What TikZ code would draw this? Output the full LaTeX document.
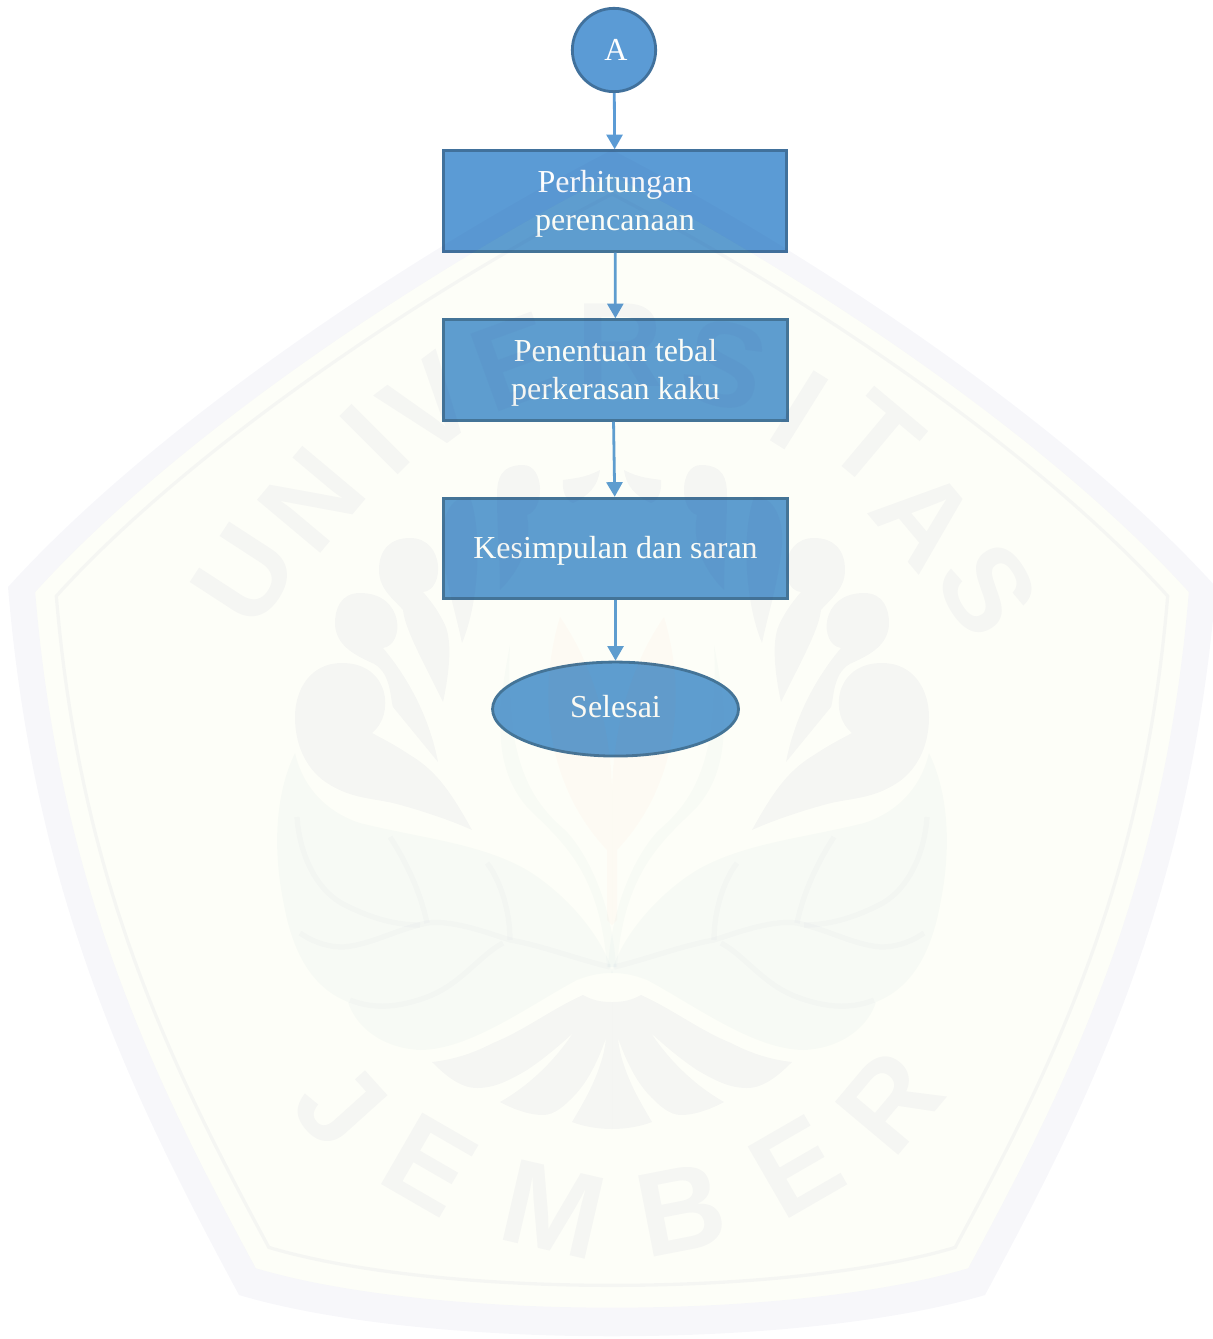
\documentclass[tikz,border=0pt]{standalone}
\usepackage{fontspec}
\setmainfont{Liberation Serif}
\newfontfamily\wmfont{Liberation Sans}[BoldFont={Liberation Sans Bold}]
\usetikzlibrary{arrows.meta}
\usetikzlibrary{shapes.geometric}
\definecolor{flowblue}{HTML}{5B9BD5}
\definecolor{flowedge}{HTML}{41719C}
\definecolor{wmtint}{HTML}{404090}
\definecolor{wmyellow}{HTML}{BCDE16}
\definecolor{wmleaf}{HTML}{6098B0}
\definecolor{wmpink}{HTML}{F06030}

\newcommand{\boxstrut}{\rule{0pt}{20.2pt}}

\tikzset{
	flowpicture/.style = {
		x = 0.75pt,
		y = -0.75pt,
		arrow/.style = {
			draw = flowblue,
			line width = 2.1pt,
			-{Triangle[width = 12pt, length = 11pt]},
		}
	},
	flownode/.style = {
		draw = flowedge,
		fill = flowblue,
		line width = 2.1pt,
		text = white,
		align = center,
		inner sep = 0pt,
		font = \fontsize{24}{28.5}\selectfont
	},
	flowbox/.style = {
		flownode,
		rectangle,
		minimum width = 257.5pt,
		minimum height = 75.5pt
	},
	flowstart/.style = {
		flownode,
		circle,
		minimum size = 62.5pt
	},
	flowend/.style = {
		flownode,
		ellipse,
		minimum width = 184.5pt,
		minimum height = 70.5pt
	},
	wmshade/.style = {
		fill = wmtint,
		fill opacity = 0.045
	},
	wmvein/.style = {
		draw = wmtint,
		draw opacity = 0.025,
		line width = 4pt
	},
	wmletter/.style = {
		text = wmtint,
		text opacity = 0.045,
		inner sep = 0pt,
		font = \wmfont\bfseries\fontsize{90}{90}\selectfont
	}
}

% one half of the leaf emblem, the other half is the mirror image
\newcommand{\wmhalf}{
	\fill[wmshade] (472,830) .. controls (450,790) and (435,770) .. (410,755) .. controls (395,745) and (385,740) .. (372,733) .. controls (395,715) and (390,663) .. (342,663) .. controls (310,663) and (295,690) .. (295,717) .. controls (295,750) and (310,772) .. (327,783) .. controls (350,798) and (370,798) .. (393,803) .. controls (420,810) and (450,820) .. (472,830) -- cycle;
	\fill[wmshade] (438,762) .. controls (430,720) and (410,680) .. (383,648) .. controls (405,645) and (405,593) .. (360,593) .. controls (340,593) and (335,610) .. (335,623) .. controls (335,645) and (355,655) .. (370,662) .. controls (392,670) and (390,700) .. (393,707) -- cycle;
	\fill[wmshade] (443,702) .. controls (450,670) and (452,640) .. (445,625) .. controls (438,610) and (430,600) .. (423,592) .. controls (445,590) and (445,538) .. (410,538) .. controls (390,538) and (379,550) .. (379,570) .. controls (379,590) and (395,600) .. (403,610) .. controls (405,630) and (425,665) .. (443,702) -- cycle;
	\fill[wmshade] (462,643) .. controls (480,600) and (482,530) .. (470,497) .. controls (450,495) and (440,520) .. (442,545) .. controls (445,580) and (455,610) .. (462,643) -- cycle;
	\fill[wmshade] (500,590) .. controls (530,560) and (530,530) .. (527,515) .. controls (545,510) and (545,465) .. (523,465) .. controls (500,465) and (497,480) .. (497,495) .. controls (497,530) and (500,560) .. (500,590) -- cycle;
	\fill[wmshade] (573,503) .. controls (590,495) and (598,485) .. (600,470) .. controls (585,478) and (575,478) .. (563,480) .. controls (562,490) and (565,500) .. (573,503) -- cycle;
	\fill[fill = wmleaf, fill opacity = 0.035] (295,753) .. controls (272,800) and (275,860) .. (283,900) .. controls (290,940) and (305,985) .. (348,1002) .. controls (355,1025) and (380,1048) .. (420,1050) .. controls (470,1050) and (530,1005) .. (577,980) .. controls (590,975) and (600,973) .. (613,973) .. controls (600,930) and (560,890) .. (527,870) .. controls (480,843) and (420,838) .. (360,823) .. controls (335,815) and (305,795) .. (295,753) -- cycle;
	\draw[wmvein] (610,967) .. controls (580,960) and (540,945) .. (510,940) .. controls (480,930) and (450,920) .. (427,923) .. controls (395,930) and (370,945) .. (343,947) .. controls (325,947) and (310,940) .. (300,933);
	\draw[wmvein] (510,940) .. controls (510,910) and (500,880) .. (487,863);
	\draw[wmvein] (427,923) .. controls (420,890) and (405,860) .. (390,837);
	\draw[wmvein] (503,943) .. controls (480,955) and (460,985) .. (427,997) .. controls (400,1007) and (375,1010) .. (350,1000);
	\draw[wmvein] (297,817) .. controls (300,860) and (320,893) .. (345,905) .. controls (365,915) and (390,925) .. (420,925);
	\fill[wmshade] (612,1002) .. controls (600,1002) and (592,1000) .. (583,995) .. controls (550,1010) and (525,1030) .. (493,1043) .. controls (470,1055) and (450,1060) .. (432,1062) .. controls (445,1075) and (460,1088) .. (477,1088) .. controls (495,1088) and (510,1080) .. (527,1070) .. controls (545,1058) and (560,1045) .. (573,1033) .. controls (555,1060) and (530,1085) .. (500,1102) .. controls (515,1110) and (530,1115) .. (543,1115) .. controls (555,1115) and (565,1105) .. (573,1097) .. controls (590,1080) and (600,1055) .. (606,1038) .. controls (603,1070) and (585,1100) .. (572,1122) .. controls (585,1127) and (600,1129) .. (612,1129) -- cycle;
	\fill[fill = wmleaf, fill opacity = 0.03] (510,645) .. controls (495,720) and (495,770) .. (527,807) .. controls (560,840) and (600,870) .. (607,967) -- (616,967) .. controls (612,900) and (585,850) .. (565,830) .. controls (530,800) and (505,760) .. (510,645) -- cycle;
	\fill[fill = wmpink, fill opacity = 0.025] (560,617) .. controls (535,700) and (550,790) .. (607,850) -- (607,920) -- (612,925) -- (612,790) .. controls (610,720) and (590,660) .. (560,617) -- cycle;
}

\begin{document}
\begin{tikzpicture}[flowpicture]
	\useasboundingbox (0,0) rectangle (1213,1339);

	\node[flowstart] (A) at (614,50) {\hspace*{3pt}A};
	\node[flowbox, below of = A, node distance = 113.25pt, xshift = 0.75pt] (P) {\boxstrut Perhitungan\\perencanaan};
	\node[flowbox, below of = P, node distance = 126.75pt, xshift = 0.4pt] (T) {\boxstrut Penentuan tebal\\perkerasan kaku};
	\node[flowbox, below of = T, node distance = 133.9pt] (K) {\boxstrut Kesimpulan dan saran};
	\node[flowend, below of = K, node distance = 120.4pt] (S) {\rule[-4.5pt]{0pt}{4.5pt}Selesai};

	\path[arrow] (A) to (P);
	\path[arrow] (P) to (T);
	\path[arrow] ([xshift = -1.5pt]T.south) to (K);
	\path[arrow] (K) to (S);

	% watermark, laid over the flow chart
	\fill[wmshade, even odd rule] (8,587) .. controls (150,430) and (400,260) .. (612,150) .. controls (824,260) and (1074,430) .. (1216,587) .. controls (1190,900) and (1090,1100) .. (985,1295) .. controls (800,1350) and (424,1350) .. (239,1295) .. controls (134,1100) and (34,900) .. (8,587) -- cycle
		(35.2,592.1) .. controls (170.8,442.2) and (409.5,279.8) .. (612,174.8) .. controls (814.5,279.8) and (1053.2,442.2) .. (1188.8,592.1) .. controls (1164,891) and (1068.5,1082) .. (968.2,1268.2) .. controls (791.5,1320.8) and (432.5,1320.8) .. (255.8,1268.2) .. controls (155.5,1082) and (60,891) .. (35.2,592.1) -- cycle;
	\fill[fill = wmyellow, fill opacity = 0.03] (35.2,592.1) .. controls (170.8,442.2) and (409.5,279.8) .. (612,174.8) .. controls (814.5,279.8) and (1053.2,442.2) .. (1188.8,592.1) .. controls (1164,891) and (1068.5,1082) .. (968.2,1268.2) .. controls (791.5,1320.8) and (432.5,1320.8) .. (255.8,1268.2) .. controls (155.5,1082) and (60,891) .. (35.2,592.1) -- cycle;
	\begin{scope}[shift = {(612,700)}, scale = 0.92, shift = {(-612,-700)}]
		\draw[wmtint, draw opacity = 0.04, line width = 2.5pt] (8,587) .. controls (150,430) and (400,260) .. (612,150) .. controls (824,260) and (1074,430) .. (1216,587) .. controls (1190,900) and (1090,1100) .. (985,1295) .. controls (800,1350) and (424,1350) .. (239,1295) .. controls (134,1100) and (34,900) .. (8,587) -- cycle;
	\end{scope}

	\wmhalf
	\begin{scope}[shift = {(1224,0)}, xscale = -1]
		\wmhalf
	\end{scope}

	\node[wmletter, rotate = 57] (wm1) at (245,575) {U};
	\node[wmletter, rotate = 50] (wm2) at (312,500) {N};
	\node[wmletter, rotate = 45] (wm3) at (375,440) {I};
	\node[wmletter, rotate = 37] (wm4) at (430,405) {V};
	\node[wmletter, rotate = 20] (wm5) at (515,362) {E};
	\node[wmletter, rotate = 0] (wm6) at (620,345) {R};
	\node[wmletter, rotate = -15] (wm7) at (725,365) {S};
	\node[wmletter, rotate = -32] (wm8) at (800,410) {I};
	\node[wmletter, rotate = -40] (wm9) at (875,440) {T};
	\node[wmletter, rotate = -50] (wm10) at (925,518) {A};
	\node[wmletter, rotate = -58] (wm11) at (988,590) {S};

	\node[wmletter, rotate = -48] (wm12) at (340,1105) {J};
	\node[wmletter, rotate = -30] (wm13) at (430,1165) {E};
	\node[wmletter, rotate = -13] (wm14) at (553,1210) {M};
	\node[wmletter, rotate = 11] (wm15) at (681,1210) {B};
	\node[wmletter, rotate = 30] (wm16) at (797,1167) {E};
	\node[wmletter, rotate = 50] (wm17) at (890,1102) {R};
\end{tikzpicture}
\end{document}
